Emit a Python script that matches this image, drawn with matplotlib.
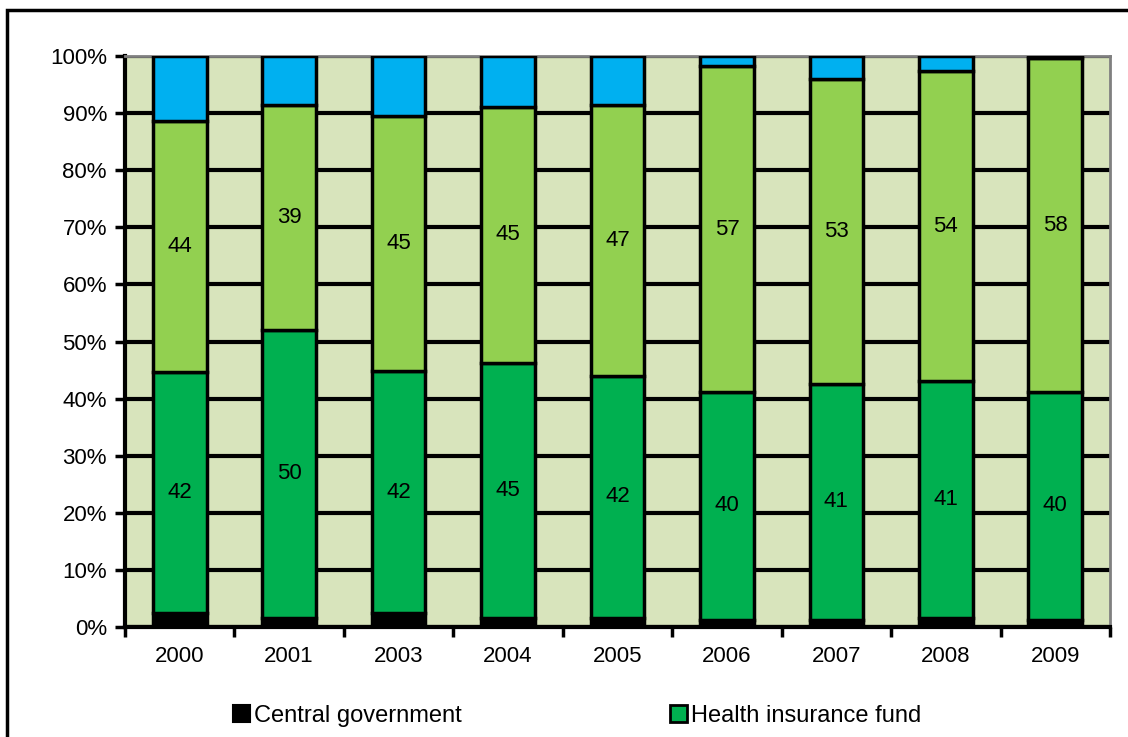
import matplotlib
matplotlib.use('Agg')
import matplotlib.pyplot as plt
from matplotlib.patches import Rectangle, Patch
import numpy as np

# 데이터
years = ['2000', '2001', '2003', '2004', '2005', '2006', '2007', '2008', '2009']
central_gov = [2.4, 1.6, 2.4, 1.6, 1.6, 1.3, 1.3, 1.6, 1.3]
health_fund = [42.3, 50.4, 42.4, 44.7, 42.4, 39.9, 41.3, 41.4, 39.9]
light_part = [43.9, 39.4, 44.7, 44.8, 47.4, 57.0, 53.3, 54.4, 58.4]
blue_part = [11.4, 8.6, 10.5, 8.9, 8.6, 1.8, 4.1, 2.6, 0.4]

plt.rcParams['font.family'] = ['Liberation Sans', 'DejaVu Sans']
plt.rcParams['font.size'] = 16

fig = plt.figure(figsize=(11.28, 7.37), dpi=100)
ax = fig.add_axes([125/1128, 1-627/737, (1110-125)/1128, (627-56)/737])
ax.set_facecolor('#D8E4BC')

x = np.arange(len(years))
w = 0.49
c1 = np.array(central_gov)
c2 = np.array(health_fund)
c3 = np.array(light_part)
c4 = np.array(blue_part)

ax.bar(x, c1, w, color='black', edgecolor='black', lw=2.5, zorder=3)
ax.bar(x, c2, w, bottom=c1, color='#00B050', edgecolor='black', lw=2.5, zorder=3)
ax.bar(x, c3, w, bottom=c1+c2, color='#92D050', edgecolor='black', lw=2.5, zorder=3)
ax.bar(x, c4, w, bottom=c1+c2+c3, color='#00B0F0', edgecolor='black', lw=2.5, zorder=3)

for i in range(len(years)):
    ax.text(x[i], c1[i] + c2[i]/2, '%.0f' % c2[i], ha='center', va='center', fontsize=16, zorder=4)
    ax.text(x[i], c1[i] + c2[i] + c3[i]/2, '%.0f' % c3[i], ha='center', va='center', fontsize=16, zorder=4)

ax.set_xlim(-0.5, len(years) - 0.5)
ax.set_ylim(0, 100)
ax.set_yticks(np.arange(0, 101, 10))
ax.set_yticklabels(['%d%%' % v for v in range(0, 101, 10)])
ax.yaxis.grid(True, color='black', lw=3, zorder=1)
ax.set_axisbelow(True)

ax.set_xticks(x)
ax.set_xticklabels(years)
ax.set_xticks(np.arange(-0.5, len(years), 1), minor=True)
ax.tick_params(axis='x', which='major', length=0, pad=14)
ax.tick_params(axis='x', which='minor', length=7, width=2.5, direction='out')
ax.tick_params(axis='y', length=7, width=2.5, direction='out', pad=6)

ax.spines['left'].set_linewidth(3)
ax.spines['bottom'].set_linewidth(3)
ax.spines['bottom'].set_zorder(5)
ax.spines['top'].set_color('#808080')
ax.spines['right'].set_color('#808080')
ax.spines['top'].set_linewidth(2)
ax.spines['right'].set_linewidth(2)

handles = [Patch(facecolor='black', edgecolor='black', lw=1.5),
           Patch(facecolor='#00B050', edgecolor='black', lw=2)]
fig.legend(handles, ['Central government', 'Health insurance fund'],
           loc='center left', bbox_to_anchor=(212/1128, 1-716/737), ncol=2, frameon=False,
           handlelength=0.7, handleheight=0.7, handletextpad=0.2, columnspacing=8.8,
           fontsize=17)

# 바깥 테두리 (오른쪽, 아래는 잘림)
fig.patches.append(Rectangle((7/1128, -0.2), 1.2, 1-10/737+0.2, transform=fig.transFigure,
                             fill=False, edgecolor='black', lw=2.5, clip_on=False))

fig.savefig('out.png', dpi=100)
